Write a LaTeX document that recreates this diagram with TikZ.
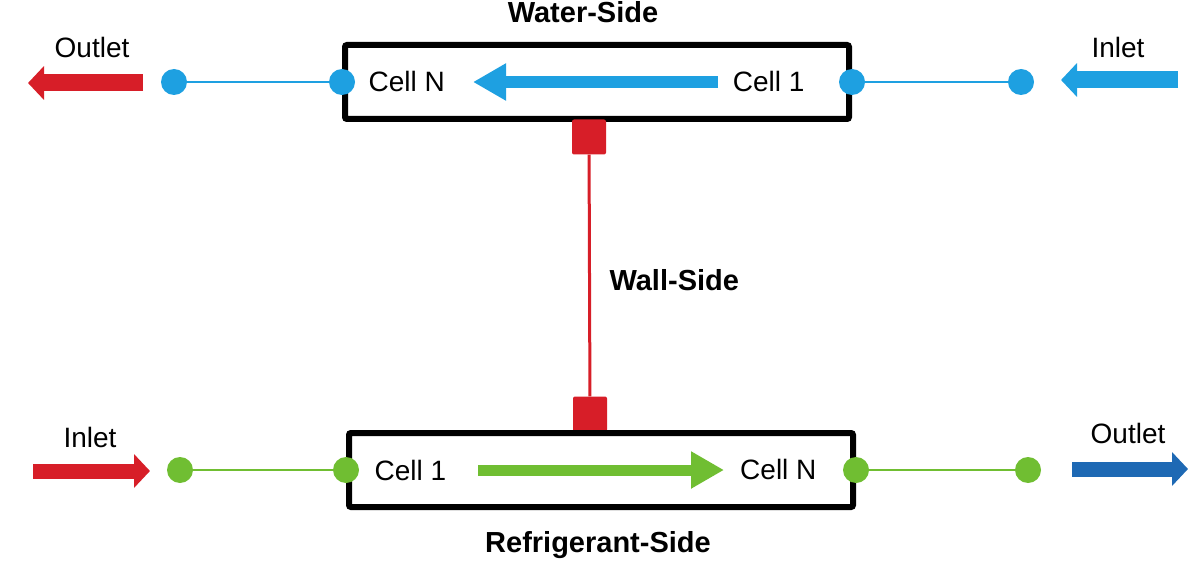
\documentclass[tikz,border=0pt]{standalone}
\usepackage{fontspec}
\setmainfont{Liberation Sans}
\usetikzlibrary{arrows.meta}
\definecolor{waterblue}{RGB}{30,160,225}
\definecolor{refgreen}{RGB}{112,190,50}
\definecolor{wallred}{RGB}{215,30,40}
\definecolor{outblue}{RGB}{30,105,180}
\tikzset{
  txt/.style={font=\fontsize{28}{32}\selectfont},
  title/.style={font=\fontsize{29}{33}\selectfont\bfseries},
  cellbox/.style={draw, line width=6pt, rounded corners=2pt, minimum width=504pt, minimum height=74pt, inner sep=0pt},
  wdot/.style={circle, fill=waterblue, minimum size=26pt, inner sep=0pt},
  rdot/.style={circle, fill=refgreen, minimum size=26pt, inner sep=0pt},
  wallsq/.style={fill=wallred, rounded corners=2pt, minimum width=34pt, minimum height=35pt, inner sep=0pt},
  bigarrow/.style={line width=#1, -{Triangle[length=16pt, width=33pt]}},
  flowarrow/.style={line width=#1, -{Triangle[length=33pt, width=35pt]}}
}
\begin{document}
\begin{tikzpicture}[x=1pt, y=-1pt]
  \useasboundingbox (0,0) rectangle (1204,588);

  % Water side
  \node[cellbox] (wbox) at (597,82) {};
  \node[title, anchor=base] (wtitle) at (583,23) {Water-Side};
  \node[wdot] (wleft) at (wbox.west) {};
  \node[wdot] (wright) at (wbox.east) {};
  \node[wdot] (wout) at (174,82) {};
  \node[wdot] (win) at (1021,82) {};
  \node[txt, anchor=west] (wcellN) at (365,81) {Cell N};
  \node[txt, anchor=east] (wcell1) at (808,81) {Cell 1};
  \draw[waterblue, line width=1.5pt] (wout) -- (wleft);
  \draw[waterblue, line width=1.5pt] (wright) -- (win);
  \coordinate (wflowA) at (718,82);
  \coordinate (wflowB) at (473,82);
  \draw[waterblue, flowarrow=12pt] (wflowA) -- (wflowB);

  % Water inlet / outlet
  \coordinate (woutA) at (143,83);
  \coordinate (woutB) at (28,83);
  \draw[wallred, bigarrow=17pt] (woutA) -- (woutB);
  \node[txt] (wouttxt) at (92,47) {Outlet};
  \coordinate (winA) at (1178,80);
  \coordinate (winB) at (1061,80);
  \draw[waterblue, bigarrow=17pt] (winA) -- (winB);
  \node[txt] (wintxt) at (1118,47) {Inlet};

  % Wall side
  \node[wallsq] (wallT) at (589,137) {};
  \node[wallsq] (wallB) at (590,414) {};
  \draw[wallred, line width=3pt] (wallT) -- (wallB);
  \node[title, anchor=west] (walltxt) at (606,280) {Wall-Side};

  % Refrigerant side
  \node[cellbox] (rbox) at (601,470) {};
  \node[title] (rtitle) at (598,545) {Refrigerant-Side};
  \node[rdot] (rleft) at (rbox.west) {};
  \node[rdot] (rright) at (rbox.east) {};
  \node[rdot] (rin) at (180,470) {};
  \node[rdot] (rout) at (1028,470) {};
  \node[txt, anchor=west] (rcell1) at (371,470) {Cell 1};
  \node[txt, anchor=east] (rcellN) at (820,469) {Cell N};
  \draw[refgreen, line width=1.5pt] (rin) -- (rleft);
  \draw[refgreen, line width=1.5pt] (rright) -- (rout);
  \coordinate (rflowA) at (478,470);
  \coordinate (rflowB) at (724,470);
  \draw[refgreen, flowarrow=11pt] (rflowA) -- (rflowB);

  % Refrigerant inlet / outlet
  \coordinate (rinA) at (33,471);
  \coordinate (rinB) at (150,471);
  \draw[wallred, bigarrow=15pt] (rinA) -- (rinB);
  \node[txt] (rintxt) at (90,437) {Inlet};
  \coordinate (routA) at (1072,469);
  \coordinate (routB) at (1188,469);
  \draw[outblue, bigarrow=15pt] (routA) -- (routB);
  \node[txt] (routtxt) at (1128,433) {Outlet};
\end{tikzpicture}
\end{document}
